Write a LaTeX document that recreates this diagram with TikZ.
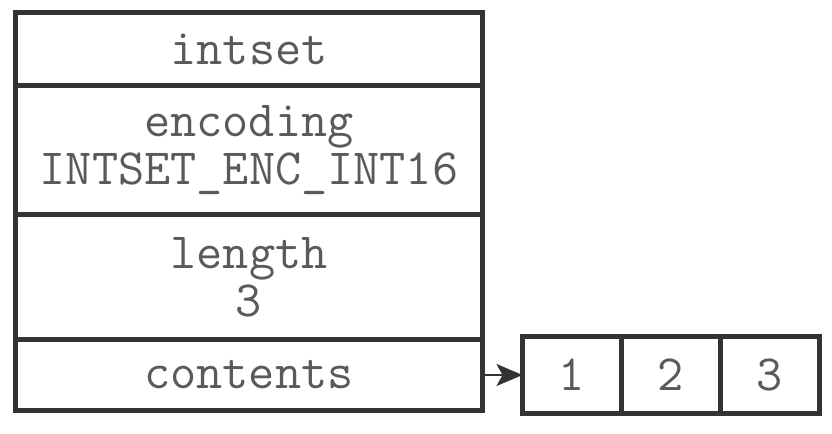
\documentclass[tikz,border=0pt]{standalone}
\usepackage{fontspec}
\usetikzlibrary{arrows.meta}
\usetikzlibrary{positioning}
\definecolor{linegray}{HTML}{333333}
\definecolor{ink}{HTML}{5A5A5A}
\tikzstyle{cell}=[draw=linegray,line width=2.5pt,outer sep=0pt,inner sep=0pt,minimum width=233.5pt,text=ink,font=\ttfamily\fontsize{25.4}{24}\selectfont,align=center]
\tikzstyle{slot}=[cell,minimum width=49.5pt,minimum height=38.5pt]
\tikzstyle{ptr}=[line width=1pt,draw=linegray,fill=linegray,-{Stealth[length=13pt,width=11pt,inset=3pt]}]

\begin{document}
\begin{tikzpicture}
	\useasboundingbox (0,0) rectangle (416pt,-217pt);
	\node[cell,minimum height=36.5pt,anchor=north west] (hdr) at (7.75pt,-6.25pt) {intset};
	\node[cell,minimum height=64.5pt,below=0pt of hdr] (enc) {encoding\\INTSET\_ENC\_INT16};
	\node[cell,minimum height=62.5pt,below=0pt of enc] (len) {length\\3};
	\node[cell,minimum height=35.5pt,below=0pt of len] (cts) {contents};
	\node[slot,right=20pt of cts] (s1) {1};
	\node[slot,right=0pt of s1] (s2) {2};
	\node[slot,right=0pt of s2] (s3) {3};
	\draw[ptr] (cts) -- (s1);
\end{tikzpicture}
\end{document}
